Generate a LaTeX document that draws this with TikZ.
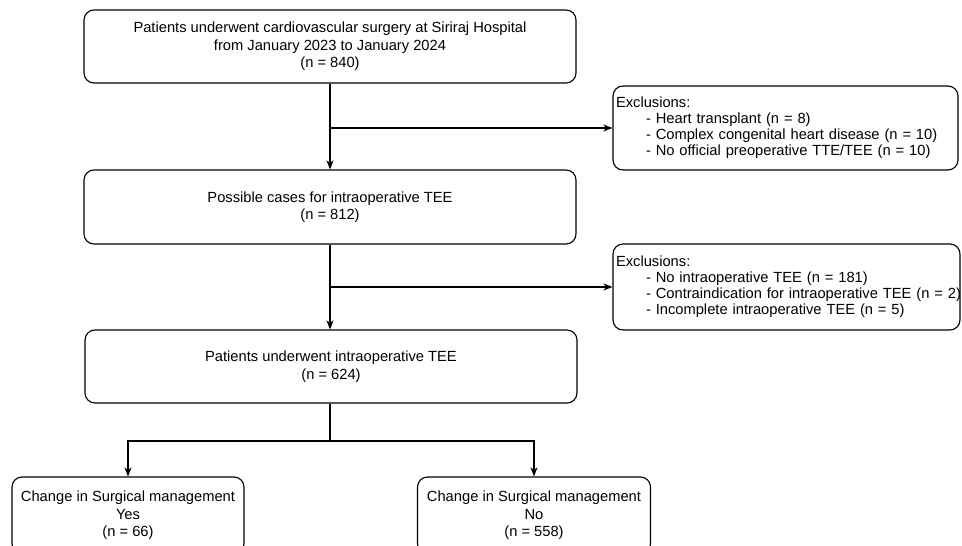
\documentclass[tikz,border=0pt]{standalone}
\usepackage{fontspec}
\setmainfont{Liberation Sans}
\usetikzlibrary{arrows.meta}
\begin{document}
\begin{tikzpicture}[x=1pt,y=-1pt,
  box/.style={draw, line width=1.1pt, rounded corners=10pt, inner sep=0pt, align=center,
    font=\fontsize{14.7}{17.5}\selectfont},
  exbox/.style={draw, line width=1.1pt, rounded corners=10pt, inner xsep=1pt, inner ysep=0pt, align=left,
    font=\fontsize{14.7}{16}\selectfont},
  arr/.style={line width=1.1pt, -{Stealth[length=9pt,width=7pt,inset=2.5pt]}},
  ln/.style={line width=1.1pt}]
\useasboundingbox (0,0) rectangle (962,546);
\clip (0,0) rectangle (962,546);
\node[box, minimum width=492pt, minimum height=73pt] (A) at (330,46.5)
  {Patients underwent cardiovascular surgery at Siriraj Hospital\\from January 2023 to January 2024\\(n = 840)};
\node[box, minimum width=492pt, minimum height=74pt] (B) at (330,207)
  {Possible cases for intraoperative TEE\\(n = 812)};
\node[box, minimum width=492pt, minimum height=73pt] (C) at (331,366.5)
  {Patients underwent intraoperative TEE\\(n = 624)};
\node[exbox, text width=343pt, minimum height=84pt] (E1) at (785.5,128)
  {\mbox{\hspace*{2pt}Exclusions:}\\\mbox{\hspace*{32pt}- Heart transplant (n = 8)}\\\mbox{\hspace*{32pt}- Complex congenital heart disease (n = 10)}\\\mbox{\hspace*{32pt}- No official preoperative TTE/TEE (n = 10)}};
\node[exbox, text width=345pt, minimum height=86pt] (E2) at (786.5,287)
  {\mbox{\hspace*{2pt}Exclusions:}\\\mbox{\hspace*{32pt}- No intraoperative TEE (n = 181)}\\\mbox{\hspace*{32pt}- Contraindication for intraoperative TEE (n = 2)}\\\mbox{\hspace*{32pt}- Incomplete intraoperative TEE (n = 5)}};
\node[box, minimum width=232pt, minimum height=77pt] (D1) at (128,515.5)
  {Change in Surgical management\\Yes\\(n = 66)};
\node[box, minimum width=233pt, minimum height=77pt] (D2) at (534,515.5)
  {Change in Surgical management\\No\\(n = 558)};
\coordinate (j1) at (A.south |- E1.west);
\coordinate (j2) at (B.south |- E2.west);
\coordinate (j3) at (330,441);
\draw[arr] (A.south) -- (B.north);
\draw[arr] (j1) -- (E1.west);
\draw[arr] (B.south) -- (C.north -| B.south);
\draw[arr] (j2) -- (E2.west);
\draw[ln] (C.south -| j3) -- (j3);
\draw[arr] (j3) -| (D1.north);
\draw[arr] (j3) -| (D2.north);
\end{tikzpicture}
\end{document}
